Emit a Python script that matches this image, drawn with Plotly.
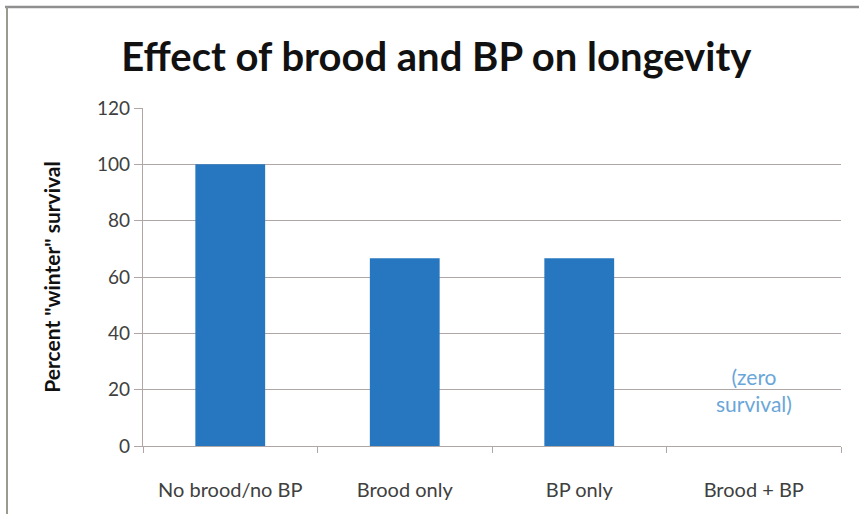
import plotly.graph_objects as go

categories = ["No brood/no BP", "Brood only", "BP only", "Brood + BP"]
survival = [100, 66.7, 66.7, 0]
y_ticks = [0, 20, 40, 60, 80, 100, 120]

title_text = "Effect of brood and BP on longevity"
y_title = 'Percent "winter" survival'
note_text = "(zero<br>survival)"

bar_color = "#2677bf"
grid_color = "#b0a6a6"
font_family = "Lato, 'Open Sans', sans-serif"

fig = go.Figure()
fig.add_trace(go.Bar(
    x=categories, y=survival,
    marker=dict(color=bar_color, line=dict(width=0)),
    width=0.4,
))

fig.add_annotation(
    x=categories[3], y=20, xref="x", yref="y",
    text=note_text, showarrow=False,
    font=dict(family=font_family, size=21, color="#6aa6d8"),
    align="center", yanchor="middle",
)

fig.update_layout(
    width=859, height=514,
    margin=dict(l=143, r=18, t=108, b=68),
    paper_bgcolor="white", plot_bgcolor="white",
    showlegend=False,
    title=dict(text="<b>" + title_text + "</b>", x=0.508, xanchor="center",
               y=0.889, yanchor="middle",
               font=dict(family=font_family, size=40, color="#111111")),
    font=dict(family=font_family, color="#404040"),
    bargap=0.6,
)

fig.update_yaxes(
    range=[0, 120], tickvals=y_ticks, showgrid=True, gridcolor=grid_color,
    gridwidth=1.3, showline=True, linecolor=grid_color, linewidth=1.3,
    ticks="outside", ticklen=8, tickcolor=grid_color,
    tickfont=dict(size=19, color="#404040"),
    zeroline=False,
    title=dict(text="<b>" + y_title + "</b>", standoff=30,
               font=dict(size=21, color="#111111")),
)
fig.update_xaxes(
    showline=True, linecolor=grid_color, linewidth=1.3,
    ticks="outside", ticklen=6, tickcolor=grid_color, tickson="boundaries",
    tickfont=dict(size=20, color="#404040"),
    ticklabelstandoff=26,
)

# chart frame (top and left edges)
fig.add_shape(type="line", xref="paper", yref="paper",
              x0=(5 - 143) / 698, x1=(859 - 143) / 698,
              y0=(446 - 7) / 338, y1=(446 - 7) / 338,
              line=dict(color="#8f8f8f", width=2.5))
fig.add_shape(type="line", xref="paper", yref="paper",
              x0=(7 - 143) / 698, x1=(7 - 143) / 698,
              y0=(446 - 7) / 338, y1=(446 - 514) / 338,
              line=dict(color="#9a9a8f", width=2))

fig.write_html("out.html")
